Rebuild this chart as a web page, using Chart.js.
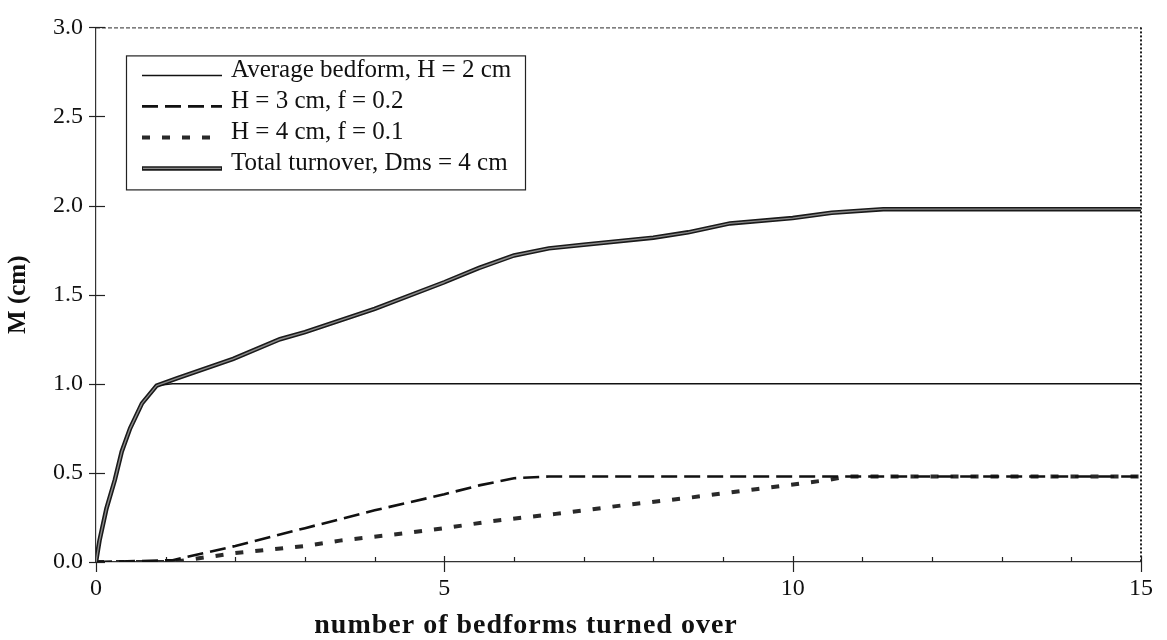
<!DOCTYPE html>
<html><head><meta charset="utf-8">
<script src="https://cdn.jsdelivr.net/npm/chart.js@4/dist/chart.umd.min.js"></script>
<style>html,body{margin:0;padding:0;background:#fff}#wrap{width:1167px;height:640px}</style>
</head><body><div id="wrap"><canvas id="c" width="1167" height="640"></canvas></div>
<script>
const seriesLabels = ['Average bedform, H = 2 cm', 'H = 3 cm, f = 0.2', 'H = 4 cm, f = 0.1', 'Total turnover, Dms = 4 cm'];
const avgX = [0, 0.05, 0.15, 0.27, 0.37, 0.49, 0.66, 0.87, 1.1, 15];
const avgY = [0, 0.12, 0.30, 0.46, 0.62, 0.75, 0.89, 0.99, 1.0, 1.0];
const h3X = [0, 1.1, 2, 3, 4, 5, 5.5, 6, 6.5, 15];
const h3Y = [0, 0.01, 0.09, 0.19, 0.29, 0.38, 0.43, 0.47, 0.48, 0.48];
const h4X = [0, 1.1, 2, 3, 3.5, 4.4, 5, 5.7, 6.6, 7.6, 8.5, 9.5, 10.5, 10.8, 15];
const h4Y = [0, 0, 0.05, 0.09, 0.12, 0.16, 0.19, 0.23, 0.27, 0.32, 0.36, 0.41, 0.46, 0.48, 0.48];
const totX = [0, 0.05, 0.15, 0.27, 0.37, 0.49, 0.66, 0.87, 1.16, 1.97, 2.64, 3, 4, 5, 5.5, 6, 6.5, 7, 8, 8.5, 9.1, 10, 10.56, 11.3, 15];
const totY = [0, 0.12, 0.30, 0.46, 0.62, 0.75, 0.89, 0.99, 1.03, 1.14, 1.25, 1.29, 1.42, 1.57, 1.65, 1.72, 1.76, 1.78, 1.82, 1.85, 1.90, 1.93, 1.96, 1.98, 1.98];
const xTickValues = [0, 5, 10, 15];
const xTickLabels = ['0', '5', '10', '15'];
const yTickLabels = ['0.0', '0.5', '1.0', '1.5', '2.0', '2.5', '3.0'];
const xTitle = 'number of bedforms turned over';
const yTitle = 'M (cm)';

const FONT = "'Liberation Serif', 'Times New Roman', serif";
function pts(xs, ys) { return xs.map((x, i) => ({ x: x, y: ys[i] })); }

const framePlugin = {
  id: 'frame',
  beforeDatasetsDraw(chart) {
    const ctx = chart.ctx, a = chart.chartArea;
    const xs = chart.scales.x, ys = chart.scales.y;
    ctx.save();
    ctx.strokeStyle = '#555'; ctx.lineWidth = 1.2; ctx.setLineDash([4, 2]);
    ctx.beginPath(); ctx.moveTo(a.left, a.top + 0.5); ctx.lineTo(a.right, a.top + 0.5); ctx.stroke();
    ctx.strokeStyle = '#222'; ctx.lineWidth = 2; ctx.setLineDash([2, 2]);
    ctx.beginPath(); ctx.moveTo(a.right, a.top); ctx.lineTo(a.right, a.bottom); ctx.stroke();
    ctx.setLineDash([]);
    ctx.strokeStyle = '#222'; ctx.lineWidth = 1.2;
    xs.ticks.forEach(t => {
      const px = Math.round(xs.getPixelForValue(t.value)) + 0.5;
      const major = xTickValues.includes(t.value);
      ctx.beginPath();
      ctx.moveTo(px, a.bottom - (major ? 6 : 5));
      ctx.lineTo(px, a.bottom + (major ? 10 : 0));
      ctx.stroke();
    });
    ys.ticks.forEach(t => {
      const py = Math.round(ys.getPixelForValue(t.value)) + 0.5;
      ctx.beginPath();
      ctx.moveTo(a.left - 7, py);
      ctx.lineTo(a.left + 9, py);
      ctx.stroke();
    });
    ctx.restore();
  },
  afterDatasetsDraw(chart) {
    const ctx = chart.ctx, a = chart.chartArea;
    const meta = chart.getDatasetMeta(3);
    ctx.save();
    ctx.beginPath(); ctx.rect(a.left, a.top, a.width, a.height); ctx.clip();
    ctx.strokeStyle = '#8a8a8a'; ctx.lineWidth = 1.4; ctx.lineJoin = 'round';
    ctx.beginPath();
    meta.data.forEach((p, i) => { if (i === 0) ctx.moveTo(p.x, p.y); else ctx.lineTo(p.x, p.y); });
    ctx.stroke();
    ctx.restore();

    ctx.save();
    const bx = a.left + 30, by = a.top + 28, bw = 399, bh = 134;
    ctx.fillStyle = '#fff'; ctx.fillRect(bx, by, bw, bh);
    ctx.strokeStyle = '#222'; ctx.lineWidth = 1.2;
    ctx.strokeRect(bx + 0.5, by + 0.5, bw, bh);
    ctx.font = '25px ' + FONT; ctx.fillStyle = '#111'; ctx.textBaseline = 'alphabetic';
    chart.data.datasets.forEach((ds, i) => {
      const ly = by + 20 + i * 31;
      ctx.save();
      ctx.strokeStyle = ds.borderColor; ctx.lineWidth = ds.borderWidth;
      ctx.setLineDash(ds.borderDash || []);
      ctx.beginPath(); ctx.moveTo(bx + 16, ly); ctx.lineTo(bx + 96, ly); ctx.stroke();
      if (i === 3) {
        ctx.strokeStyle = '#8a8a8a'; ctx.lineWidth = 1.4;
        ctx.beginPath(); ctx.moveTo(bx + 17, ly); ctx.lineTo(bx + 95, ly); ctx.stroke();
      }
      ctx.restore();
      ctx.fillText(ds.label, bx + 105, ly + 2);
    });
    ctx.restore();

    ctx.save();
    ctx.font = 'bold 28px ' + FONT; ctx.fillStyle = '#111';
    try { ctx.letterSpacing = '1px'; } catch (e) {}
    ctx.textAlign = 'center'; ctx.textBaseline = 'middle';
    ctx.fillText(xTitle, a.left + 430, a.bottom + 64);
    ctx.restore();
  }
};

new Chart(document.getElementById('c'), {
  type: 'line',
  data: {
    datasets: [
      { label: seriesLabels[0], data: pts(avgX, avgY), borderColor: '#111', borderWidth: 1.5, borderDash: [] },
      { label: seriesLabels[1], data: pts(h3X, h3Y), borderColor: '#111', borderWidth: 2.6, borderDash: [16, 7] },
      { label: seriesLabels[2], data: pts(h4X, h4Y), borderColor: '#2a2a2a', borderWidth: 4, borderDash: [8, 12] },
      { label: seriesLabels[3], data: pts(totX, totY), borderColor: '#1a1a1a', borderWidth: 4.5, borderDash: [] }
    ]
  },
  options: {
    responsive: false,
    animation: false,
    devicePixelRatio: 1,
    layout: { padding: { top: 24, right: 26, left: 0, bottom: 0 } },
    elements: { point: { radius: 0 }, line: { tension: 0, fill: false } },
    plugins: { legend: { display: false }, tooltip: { enabled: false } },
    scales: {
      x: {
        type: 'linear', min: 0, max: 15,
        grid: { display: false, drawTicks: false },
        border: { display: true, color: '#333', width: 1.2 },
        ticks: {
          stepSize: 1, autoSkip: false, maxRotation: 0, padding: 12,
          color: '#111', font: { family: FONT, size: 24 },
          callback: (v) => { const k = xTickValues.indexOf(v); return k >= 0 ? xTickLabels[k] : ''; }
        },
        afterFit: (s) => { s.height = 78; }
      },
      y: {
        type: 'linear', min: 0, max: 3,
        grid: { display: false, drawTicks: false },
        border: { display: true, color: '#333', width: 1.2 },
        title: { display: true, text: yTitle, color: '#111', font: { family: FONT, size: 25, weight: 'bold' }, padding: { top: 4, bottom: 0 } },
        ticks: {
          stepSize: 0.5, autoSkip: false, padding: 13,
          color: '#111', font: { family: FONT, size: 24 },
          callback: (v) => yTickLabels[Math.round(v / 0.5)]
        },
        afterFit: (s) => { s.width = 96; }
      }
    }
  },
  plugins: [framePlugin]
});
</script>
</body></html>
